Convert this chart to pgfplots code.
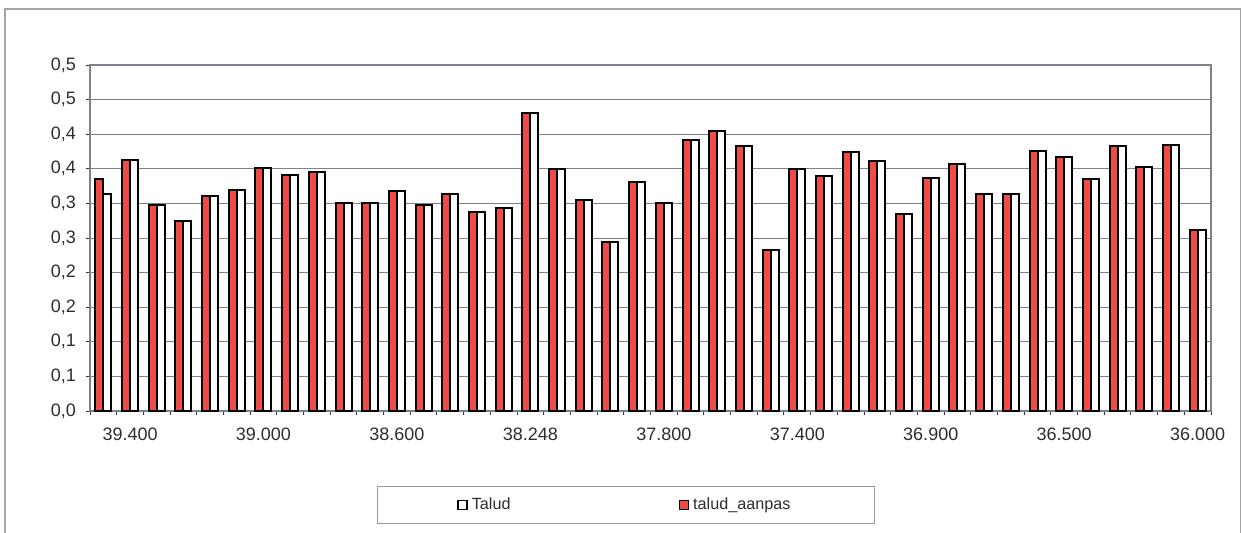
\documentclass[border=0pt]{standalone}
\usepackage{fontspec}
\setmainfont{Liberation Sans}
\usepackage{pgfplots}
\usepackage{pgfplotstable}
\pgfplotsset{compat=1.18}
\definecolor{barred}{RGB}{240,76,70}
\definecolor{gridgray}{RGB}{128,128,140}
\definecolor{txt}{RGB}{45,45,45}
\pgfplotstableread{
x aanpas talud
0 0.335 0.314
1 0.363 0.363
2 0.297 0.297
3 0.275 0.275
4 0.310 0.310
5 0.319 0.319
6 0.351 0.351
7 0.341 0.341
8 0.346 0.346
9 0.300 0.300
10 0.301 0.301
11 0.318 0.318
12 0.298 0.298
13 0.314 0.314
14 0.287 0.287
15 0.293 0.293
16 0.430 0.430
17 0.350 0.350
18 0.305 0.305
19 0.244 0.244
20 0.331 0.331
21 0.300 0.300
22 0.392 0.392
23 0.404 0.404
24 0.383 0.383
25 0.232 0.232
26 0.350 0.350
27 0.339 0.339
28 0.375 0.375
29 0.361 0.361
30 0.285 0.285
31 0.336 0.336
32 0.357 0.357
33 0.314 0.314
34 0.314 0.314
35 0.376 0.376
36 0.367 0.367
37 0.335 0.335
38 0.383 0.383
39 0.353 0.353
40 0.385 0.385
41 0.262 0.262
}\datatable
\begin{document}
\begin{tikzpicture}
\useasboundingbox (0,0) rectangle (621pt,266pt);
\draw[gray!70, line width=0.6pt] (2.5pt,-5pt) rectangle (620.3pt,261.5pt);
\begin{axis}[
  at={(45pt,60.5pt)}, anchor=south west,
  scale only axis, width=560.5pt, height=173pt,
  ybar=0pt, bar width=4pt,
  xmin=-0.5, xmax=41.5, ymin=0, ymax=0.5,
  xtick={1,6,11,16,21,26,31,36,41},
  xticklabels={39.400,39.000,38.600,38.248,37.800,37.400,36.900,36.500,36.000},
  minor xtick={-0.5,0.5,...,41.5},
  ytick={0,0.05,0.1,0.15,0.2,0.25,0.3,0.35,0.4,0.45,0.5},
  yticklabels={{0,0},{0,1},{0,1},{0,2},{0,2},{0,3},{0,3},{0,4},{0,4},{0,5},{0,5}},
  xtick pos=bottom, ytick pos=left, tick align=outside,
  major tick length=2pt, minor tick length=2pt,
  major x tick style={draw=none},
  minor x tick style={black!80, line width=0.5pt},
  major y tick style={black!80, line width=0.5pt},
  ymajorgrids, grid style={gridgray, line width=0.5pt},
  axis line style={gridgray, line width=0.6pt},
  tick label style={font=\fontsize{9}{10}\selectfont, text=txt},
  xticklabel style={yshift=-3pt},
  yticklabel style={xshift=-1.5pt},
  legend columns=2, reverse legend,
  legend image code/.code={\draw[#1, line width=0.7pt] (0pt,-2.3pt) rectangle (4.6pt,2.3pt);},
  legend style={at={(0.478,-0.2717)}, anchor=center, draw=gray!80,
    line width=0.5pt, font=\fontsize{8.1}{10}\selectfont, text=txt,
    inner xsep=40pt, inner ysep=3.5pt,
    /tikz/every even column/.append style={column sep=82pt}},
]
\addplot[fill=barred, draw=black, line width=1pt] table[x=x, y=aanpas] {\datatable};
\addlegendentry{talud\_aanpas}
\addplot[fill=white, draw=black, line width=1pt] table[x=x, y=talud] {\datatable};
\addlegendentry{Talud}
\end{axis}
\end{tikzpicture}
\end{document}
